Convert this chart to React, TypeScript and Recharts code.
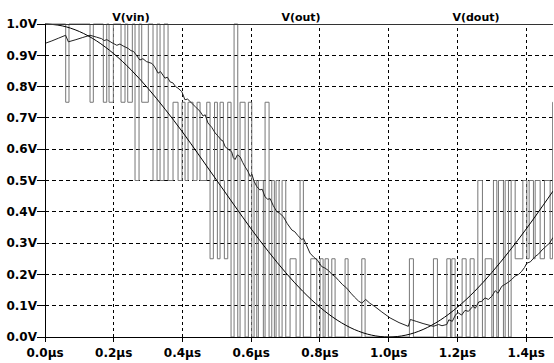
import React from "react";
import { LineChart, Line, XAxis, YAxis, ReferenceLine } from "recharts";

// ---- data ----
const xTicks = [0, 0.2, 0.4, 0.6, 0.8, 1.0, 1.2, 1.4];
const yTicks = [0, 0.1, 0.2, 0.3, 0.4, 0.5, 0.6, 0.7, 0.8, 0.9, 1.0];
const seriesNames = ["V(vin)", "V(out)", "V(dout)"];

const vinTime = [0, 0.05, 0.1, 0.15, 0.2, 0.25, 0.3, 0.35, 0.4, 0.45, 0.5, 0.55, 0.6, 0.65, 0.7, 0.75, 0.8, 0.85, 0.9, 0.95, 1.0, 1.05, 1.1, 1.15, 1.2, 1.25, 1.3, 1.35, 1.4, 1.45, 1.478];
const vinValue = [1.0, 0.994, 0.976, 0.946, 0.905, 0.854, 0.794, 0.727, 0.655, 0.578, 0.5, 0.422, 0.345, 0.273, 0.206, 0.146, 0.095, 0.054, 0.024, 0.006, 0.0, 0.006, 0.024, 0.054, 0.095, 0.146, 0.206, 0.273, 0.345, 0.422, 0.466];

const outTime = [0.0, 0.02, 0.04, 0.06, 0.068, 0.09, 0.11, 0.131, 0.15, 0.165, 0.172, 0.18, 0.195, 0.209, 0.218, 0.227, 0.242, 0.25, 0.258, 0.266, 0.276, 0.285, 0.295, 0.311, 0.318, 0.329, 0.336, 0.349, 0.356, 0.364, 0.372, 0.38, 0.387, 0.398, 0.403, 0.407, 0.415, 0.427, 0.438, 0.451, 0.46, 0.466, 0.474, 0.485, 0.495, 0.505, 0.512, 0.518, 0.524, 0.533, 0.543, 0.548, 0.553, 0.56, 0.568, 0.575, 0.582, 0.59, 0.597, 0.602, 0.608, 0.616, 0.625, 0.632, 0.64, 0.648, 0.655, 0.664, 0.674, 0.683, 0.693, 0.705, 0.718, 0.727, 0.735, 0.747, 0.752, 0.76, 0.771, 0.782, 0.793, 0.805, 0.815, 0.825, 0.835, 0.844, 0.855, 0.865, 0.878, 0.89, 0.9, 0.912, 0.922, 0.933, 0.945, 0.96, 0.98, 1.004, 1.03, 1.057, 1.063, 1.08, 1.1, 1.13, 1.145, 1.155, 1.169, 1.175, 1.185, 1.195, 1.203, 1.212, 1.222, 1.232, 1.245, 1.252, 1.262, 1.271, 1.28, 1.29, 1.3, 1.31, 1.318, 1.329, 1.338, 1.348, 1.358, 1.368, 1.378, 1.387, 1.395, 1.402, 1.412, 1.426, 1.436, 1.446, 1.458, 1.468, 1.478];
const outValue = [0.938, 0.946, 0.955, 0.964, 0.943, 0.95, 0.957, 0.964, 0.958, 0.953, 0.947, 0.95, 0.94, 0.932, 0.936, 0.93, 0.922, 0.915, 0.912, 0.9, 0.885, 0.889, 0.88, 0.874, 0.865, 0.843, 0.848, 0.827, 0.83, 0.815, 0.812, 0.8, 0.795, 0.784, 0.77, 0.758, 0.76, 0.747, 0.735, 0.721, 0.706, 0.71, 0.684, 0.67, 0.652, 0.64, 0.63, 0.626, 0.608, 0.6, 0.592, 0.573, 0.567, 0.582, 0.575, 0.558, 0.544, 0.53, 0.513, 0.52, 0.498, 0.481, 0.47, 0.472, 0.448, 0.44, 0.442, 0.42, 0.401, 0.395, 0.385, 0.362, 0.342, 0.336, 0.325, 0.311, 0.315, 0.295, 0.268, 0.255, 0.245, 0.225, 0.22, 0.212, 0.2, 0.193, 0.18, 0.168, 0.156, 0.14, 0.128, 0.115, 0.108, 0.12, 0.108, 0.097, 0.08, 0.061, 0.046, 0.034, 0.056, 0.05, 0.043, 0.034, 0.04, 0.036, 0.04, 0.055, 0.05, 0.072, 0.077, 0.07, 0.085, 0.082, 0.098, 0.092, 0.112, 0.114, 0.125, 0.12, 0.13, 0.148, 0.14, 0.162, 0.168, 0.175, 0.184, 0.195, 0.2, 0.21, 0.222, 0.236, 0.24, 0.257, 0.265, 0.278, 0.29, 0.3, 0.318];

// transition times (µs) and the level held after each transition
const doutTime = [0, 0.0602, 0.0698, 0.131, 0.1406, 0.1697, 0.1796, 0.1863, 0.1988, 0.2212, 0.2328, 0.2407, 0.2541, 0.2619, 0.2736, 0.2814, 0.3006, 0.3143, 0.326, 0.3347, 0.3463, 0.358, 0.3725, 0.3871, 0.3987, 0.4075, 0.4162, 0.4307, 0.4424, 0.4511, 0.4706, 0.4802, 0.4898, 0.4933, 0.5015, 0.5093, 0.5189, 0.5218, 0.5317, 0.5413, 0.5501, 0.5608, 0.5675, 0.5821, 0.5917, 0.6016, 0.6083, 0.6161, 0.6208, 0.6353, 0.6403, 0.6519, 0.6598, 0.6673, 0.6723, 0.681, 0.6898, 0.7005, 0.713, 0.7305, 0.7421, 0.7517, 0.7733, 0.7907, 0.8004, 0.8091, 0.8149, 0.8245, 0.8344, 0.844, 0.8731, 0.8818, 0.9217, 0.9313, 1.0602, 1.0719, 1.1301, 1.1417, 1.1691, 1.1796, 1.1836, 1.1932, 1.2136, 1.2252, 1.2369, 1.2485, 1.2593, 1.2727, 1.2806, 1.3001, 1.3047, 1.3146, 1.3193, 1.3338, 1.3388, 1.3484, 1.3562, 1.3679, 1.3903, 1.4019, 1.4086, 1.4211, 1.4261, 1.4406, 1.4531, 1.4697, 1.477, 1.478];
const doutLevel = [1.0, 0.75, 1.0, 0.75, 1.0, 0.75, 1.0, 0.75, 1.0, 0.75, 1.0, 0.75, 1.0, 0.5, 1.0, 0.75, 1.0, 0.5, 1.0, 0.5, 1.0, 0.5, 0.75, 0.5, 0.75, 0.5, 0.75, 0.5, 0.75, 0.5, 0.75, 0.25, 0.5, 0.75, 0.25, 0.75, 0.5, 0.25, 0.75, 0.0, 1.0, 0.0, 0.75, 0.0, 0.75, 0.0, 0.5, 0.0, 0.5, 0.0, 0.75, 0.0, 0.5, 0.0, 0.5, 0.0, 0.5, 0.0, 0.25, 0.0, 0.5, 0.0, 0.25, 0.0, 0.25, 0.0, 0.25, 0.0, 0.25, 0.0, 0.25, 0.0, 0.25, 0.0, 0.25, 0.0, 0.25, 0.0, 0.25, 0.0, 0.25, 0.0, 0.25, 0.0, 0.25, 0.0, 0.5, 0.0, 0.25, 0.0, 0.5, 0.0, 0.5, 0.0, 0.5, 0.0, 0.5, 0.25, 0.5, 0.25, 0.5, 0.25, 0.5, 0.25, 0.5, 0.25, 0.75, 0.75];

const vinData = vinTime.map((t, i) => ({ t, v: vinValue[i] }));
const outData = outTime.map((t, i) => ({ t, v: outValue[i] }));
const doutData = doutTime.map((t, i) => ({ t, v: doutLevel[i] }));

const FONT = "'DejaVu Sans', Verdana, sans-serif";
const tickStyle = { fontSize: 12, fontWeight: 700, fill: "#000", fontFamily: FONT };
const titleX = [131, 301, 476];

export default function App() {
  return (
    <div style={{ position: "absolute", left: 0, top: 0, width: 554, height: 363, background: "#fff" }}>
      <LineChart width={554} height={363} margin={{ top: 24, right: 1, left: 0, bottom: 0 }}>
        <XAxis
          type="number"
          dataKey="t"
          domain={[0, 1.478]}
          allowDataOverflow
          ticks={xTicks}
          interval={0}
          tickFormatter={(v: number) => `${v.toFixed(1)}µs`}
          tick={tickStyle}
          tickSize={5}
          tickMargin={6}
          height={26}
          axisLine={{ stroke: "#000", shapeRendering: "crispEdges" }}
          tickLine={{ stroke: "#000", shapeRendering: "crispEdges" }}
        />
        <YAxis
          type="number"
          domain={[0, 1]}
          ticks={yTicks}
          interval={0}
          tickFormatter={(v: number) => `${v.toFixed(1)}V`}
          tick={tickStyle}
          tickSize={8}
          tickMargin={0}
          width={45}
          axisLine={{ stroke: "#000", shapeRendering: "crispEdges" }}
          tickLine={{ stroke: "#000", shapeRendering: "crispEdges" }}
        />
        {yTicks.filter((v) => v > 0 && v < 1).map((v) => (
          <ReferenceLine key={`h${v}`} y={v} stroke="#000" strokeDasharray="4 3" shapeRendering="crispEdges" />
        ))}
        {xTicks.filter((v) => v > 0).map((v) => (
          <ReferenceLine key={`v${v}`} x={v} stroke="#000" strokeDasharray="3 3" shapeRendering="crispEdges" />
        ))}
        <Line data={doutData} dataKey="v" type="stepAfter" dot={false} stroke="#777" strokeWidth={1} isAnimationActive={false} />
        <Line data={outData} dataKey="v" type="linear" dot={false} stroke="#222" strokeWidth={1} isAnimationActive={false} />
        <Line data={vinData} dataKey="v" type="monotone" dot={false} stroke="#000" strokeWidth={1} isAnimationActive={false} />
        <ReferenceLine y={1} stroke="#333" shapeRendering="crispEdges" />
      </LineChart>
      <svg width={554} height={24} style={{ position: "absolute", left: 0, top: 0 }}>
        {seriesNames.map((n, i) => (
          <text key={n} x={titleX[i]} y={21} textAnchor="middle" fontSize={11} fontWeight={700} fontFamily={FONT} fill="#000">
            {n}
          </text>
        ))}
      </svg>
    </div>
  );
}
